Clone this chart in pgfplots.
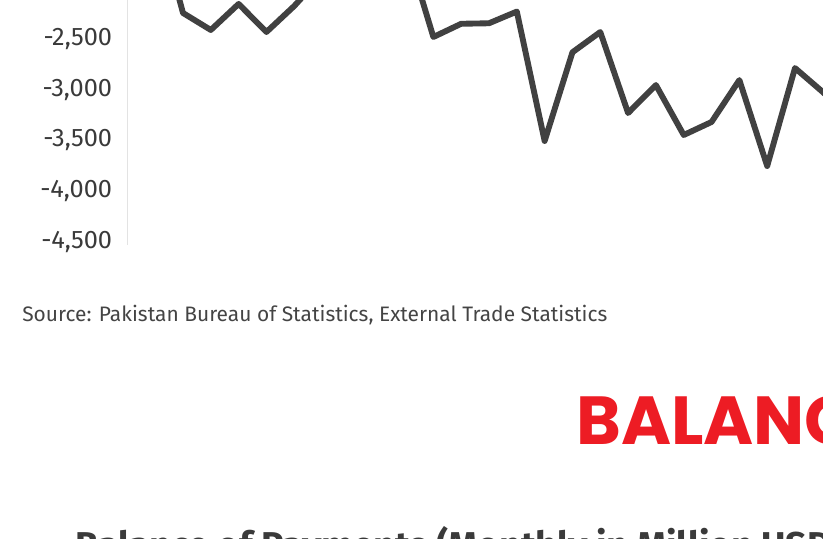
\documentclass[border=0pt]{standalone}
\usepackage{pgfplots}
\pgfplotsset{compat=1.18}
\usepackage{fontspec}
\setmainfont{Fira Sans}
\newfontfamily\balfont{Poppins}
\definecolor{linec}{HTML}{414141}
\definecolor{txtc}{HTML}{3A3A3A}
\definecolor{srcc}{HTML}{444444}
\definecolor{axc}{HTML}{E3E3E3}
\definecolor{redc}{HTML}{ED1C24}
\begin{document}
\begin{tikzpicture}[x=0.75pt,y=0.75pt]
\begin{axis}[
  scale only axis, width=667.65pt, height=309.1pt,
  xmin=-2, xmax=30, ymin=-4550, ymax=-500,
  axis lines*=left,
  x axis line style={draw=none},
  y axis line style={draw=axc, line width=0.9pt},
  xtick=\empty,
  ytick={-4500,-4000,-3500,-3000,-2500},
  yticklabels={{-4,500},{-4,000},{-3,500},{-3,000},{-2,500}},
  major tick length=0pt,
  yticklabel style={anchor=base east, inner sep=0pt, xshift=-11.25pt, yshift=-6.5pt,
    text=txtc, font=\fontsize{19}{22}\selectfont},
]
\addplot[linec, line width=4.4pt, line join=round, line cap=round] coordinates {
(-1,-1250) (0,-2269) (1,-2436) (2,-2180) (3,-2456) (4,-2200) (5,-1900)
(6,-1600) (7,-1900) (8,-1600) (9,-2505) (10,-2375) (11,-2370) (12,-2255)
(13,-3527) (14,-2655) (15,-2456) (16,-3252) (17,-2977) (18,-3468)
(19,-3340) (20,-2928) (21,-3773) (22,-2810) (23,-3046) (24,-3300)
(25,-2900) (26,-3400)
};
\coordinate (TL) at (axis cs:-6.578,-2141.3);
\end{axis}
\path (TL) ++(22,-322) node[anchor=base west, inner sep=0pt, text=srcc,
  font=\fontsize{15.7}{18}\selectfont]
  {Source: Pakistan Bureau of Statistics, External Trade Statistics};
\path (TL) ++(576,-444) node[anchor=base west, inner sep=0pt, text=redc,
  font=\balfont\bfseries\fontsize{51}{56}\selectfont] {BALANCE OF PAYMENTS};
\path (TL) ++(75,-558) node[anchor=base west, inner sep=0pt, text=txtc,
  font=\bfseries\fontsize{28}{32}\selectfont]
  {Balance of Payments (Monthly in Million USD)};
\pgfresetboundingbox
\useasboundingbox (TL) rectangle ++(823,-538);
\end{tikzpicture}
\end{document}
